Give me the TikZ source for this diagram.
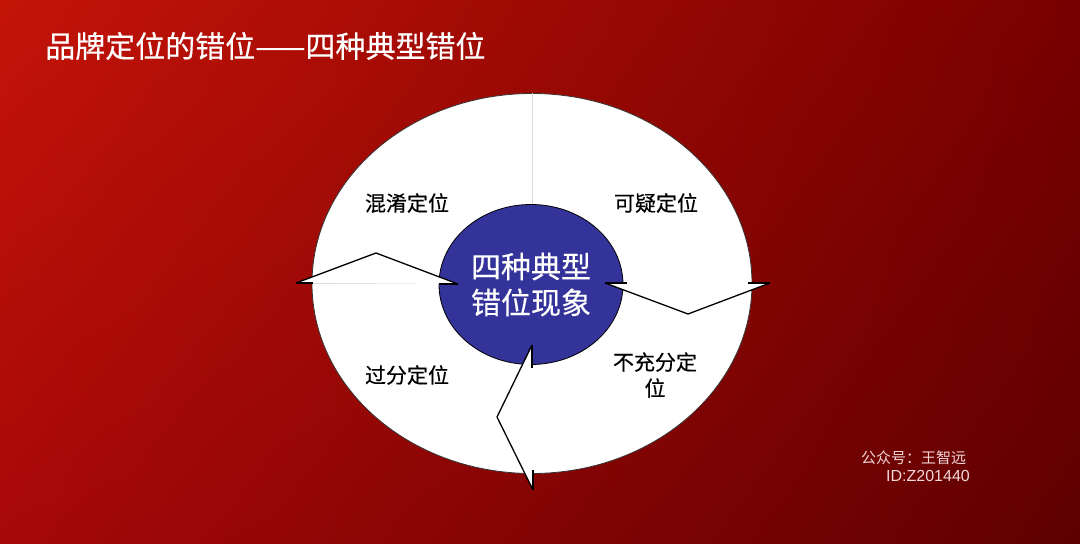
\documentclass[tikz,border=0pt]{standalone}
\usepackage{fontspec}
\usetikzlibrary{shadings,shapes.geometric}
\newfontfamily\cjk{Noto Sans CJK SC}
\newfontfamily\cjkb[FakeBold=0.35]{Noto Sans CJK SC}
\newfontfamily\latinw{Liberation Sans}
\definecolor{bgTL}{HTML}{C41408}
\definecolor{bgTR}{HTML}{780000}
\definecolor{bgBL}{HTML}{A60808}
\definecolor{bgBR}{HTML}{5E0000}
\definecolor{hubblue}{HTML}{333399}
\definecolor{divgray}{HTML}{D8D8D8}
\definecolor{wmark}{HTML}{F2D8D8}
\tikzset{
  label/.style={font=\cjkb\fontsize{21}{26}\selectfont, text=black, inner sep=0pt},
  arrowbody/.style={fill=white, draw=none},
  arrowedge/.style={draw=black, line width=1.3pt, line join=miter},
  barb/.style={draw=black, line width=1.3pt},
}
\begin{document}
\begin{tikzpicture}[x=1pt,y=1pt]
\useasboundingbox (0,0) rectangle (1080,544);
\shade[upper left=bgTL, upper right=bgTR, lower left=bgBL, lower right=bgBR] (0,0) rectangle (1080,544);
% title
\node[anchor=west, inner sep=0pt, text=white, font=\cjkb\fontsize{30}{32}\selectfont] (title) at (45,498) {品牌定位的错位——四种典型错位};
% outer ellipse
\node[ellipse, draw=black!80, line width=0.8pt, fill=white, minimum width=440pt, minimum height=380pt, inner sep=0pt] (outer) at (532,260.5) {};
% divider lines
\coordinate (vtop) at (532,450.5);
\coordinate (vbot) at (532,340);
\coordinate (hl) at (312,261);
\coordinate (hr) at (752,261);
\draw[divgray, line width=0.8pt] (vtop) -- (vbot);
\draw[divgray, line width=0.8pt] (hl) -- (hr);
% hub
\node[ellipse, fill=hubblue, draw=black, line width=0.8pt, minimum width=184pt, minimum height=160pt, inner sep=0pt] (hubshape) at (531,259.5) {};
\node[inner sep=0pt, text=white, align=center, font=\cjkb\fontsize{30}{36}\selectfont] (hub) at (531,259.5) {四种典型\\错位现象};
% left arrow
\coordinate (la) at (296,261);
\coordinate (lb) at (376,291);
\coordinate (lc) at (458,260);
\fill[arrowbody] (la) -- (lb) -- (lc) -- cycle;
\draw[arrowedge] (la) -- (lb) -- (lc);
\draw[barb] (la) -- ++(17,0);
\draw[barb] (lc) -- ++(-19,0);
% right arrow
\coordinate (ra) at (605,261);
\coordinate (rb) at (688,230);
\coordinate (rc) at (770,261);
\fill[arrowbody] (ra) -- (rb) -- (rc) -- cycle;
\draw[arrowedge] (ra) -- (rb) -- (rc);
\draw[barb] (ra) -- ++(22,0);
\draw[barb] (rc) -- ++(-22,0);
% bottom arrow
\coordinate (ba) at (532,199);
\coordinate (bb) at (497,127);
\coordinate (bc) at (533,54);
\fill[arrowbody] (ba) -- (bb) -- (bc) -- cycle;
\draw[arrowedge] (ba) -- (bb) -- (bc);
\draw[barb] (ba) -- ++(0,-23);
\draw[barb] (bc) -- ++(0,20);
% quadrant labels
\node[label] (q1) at (407,341) {混淆定位};
\node[label] (q2) at (656,341) {可疑定位};
\node[label] (q3) at (407,169) {过分定位};
\node[label, align=center] (q4) at (655,169) {不充分定\\位};
% watermark
\node[anchor=west, inner sep=0pt, text=wmark, font=\cjk\fontsize{15}{16}\selectfont] (wm1) at (861,86) {公众号：王智远};
\node[anchor=west, inner sep=0pt, text=wmark, font=\latinw\fontsize{16}{16}\selectfont] (wm2) at (886,68) {ID:Z201440};
\end{tikzpicture}
\end{document}
